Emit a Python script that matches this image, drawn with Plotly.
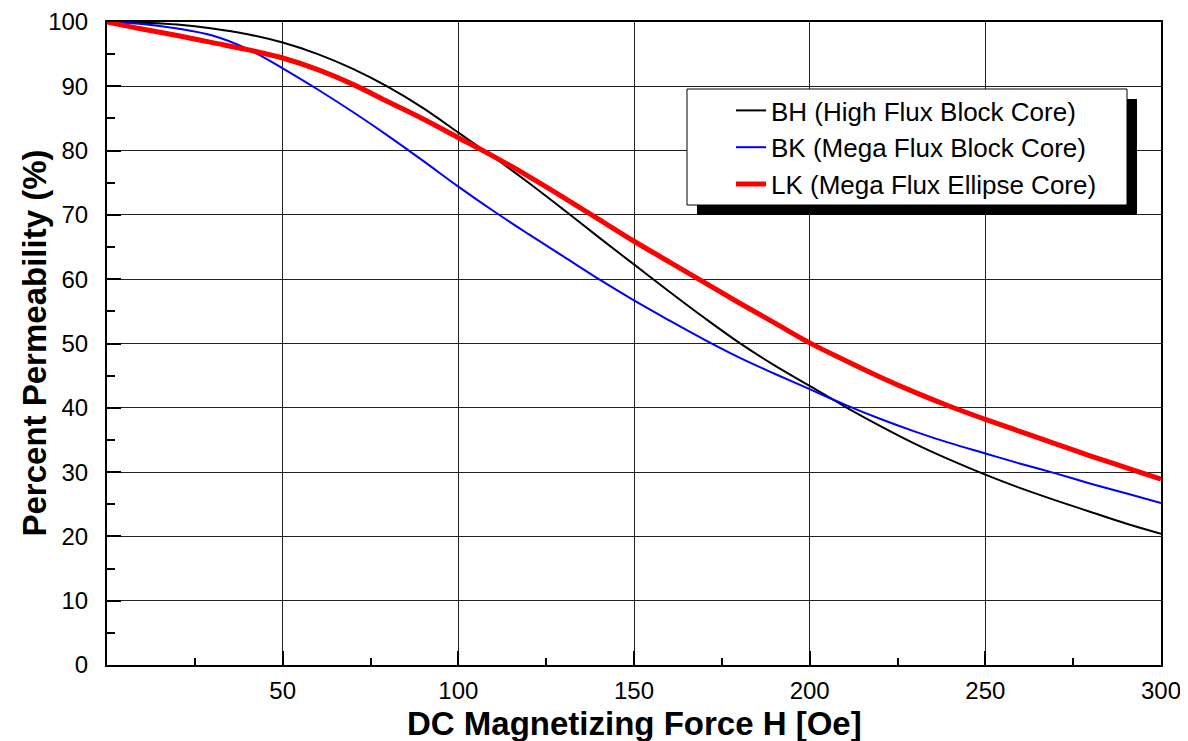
import plotly.graph_objects as go

# ---- data ----
h_oe = [0, 10, 20, 30, 40, 50, 60, 70, 80, 90, 100, 110, 120, 130, 140, 150,
        160, 170, 180, 190, 200, 210, 220, 230, 240, 250, 260, 270, 280, 290, 300]

bh_high_flux_block = [100.0, 99.9, 99.6, 99.0, 98.1, 96.8, 95.0, 92.7, 89.9, 86.6, 82.8,
                      79.0, 75.0, 70.8, 66.5, 62.3, 58.1, 54.0, 50.1, 46.6, 43.4,
                      40.2, 37.2, 34.4, 31.9, 29.6, 27.5, 25.6, 23.8, 22.0, 20.4]

bk_mega_flux_block = [100.0, 99.7, 99.0, 97.9, 95.8, 92.8, 89.5, 86.0, 82.3, 78.4, 74.4,
                      70.6, 67.0, 63.5, 60.0, 56.7, 53.6, 50.6, 47.8, 45.3, 42.9,
                      40.5, 38.3, 36.3, 34.5, 32.9, 31.3, 29.8, 28.2, 26.7, 25.2]

lk_mega_flux_ellipse = [100.0, 98.9, 97.9, 96.8, 95.7, 94.4, 92.6, 90.3, 87.6, 84.9, 82.0,
                        79.1, 76.0, 72.7, 69.3, 65.9, 62.7, 59.5, 56.3, 53.2, 50.1,
                        47.4, 44.8, 42.4, 40.2, 38.2, 36.3, 34.4, 32.5, 30.7, 28.9]

series_names = ["BH (High Flux Block Core)", "BK (Mega Flux Block Core)",
                "LK (Mega Flux Ellipse Core)"]
x_tick_vals = [50, 100, 150, 200, 250, 300]
y_tick_vals = [0, 10, 20, 30, 40, 50, 60, 70, 80, 90, 100]
x_title = "DC Magnetizing Force H [Oe]"
y_title = "Percent Permeability (%)"

FONT = "Liberation Sans, Arial, sans-serif"

fig = go.Figure()
for name, ys, color, width in [
    (series_names[0], bh_high_flux_block, "#000000", 2),
    (series_names[1], bk_mega_flux_block, "#0000ff", 2),
    (series_names[2], lk_mega_flux_ellipse, "#ff0000", 5),
]:
    fig.add_trace(go.Scatter(
        x=h_oe, y=ys, mode="lines", name=name,
        line=dict(color=color, width=width, shape="spline", smoothing=1.0),
        legendgroup=name,
    ))

# The page body adds an 8px offset, so the figure is sized to fit the window.
OFF = 8
W, H = 1188 - OFF, 741 - OFF
ML, MR, MT, MB = 107 - OFF, 27, 22 - OFF, 76
PW, PH = W - ML - MR, H - MT - MB


def px_x(px):  # window pixel -> paper x
    return (px - OFF - ML) / PW


def px_y(py):  # window pixel -> paper y
    return (H - MB - (py - OFF)) / PH


shapes = [
    dict(type="rect", xref="paper", yref="paper",
         x0=px_x(697), x1=px_x(1137), y0=px_y(215), y1=px_y(99),
         fillcolor="black", line=dict(width=0), layer="above"),
    dict(type="rect", xref="paper", yref="paper",
         x0=px_x(687), x1=px_x(1127), y0=px_y(205), y1=px_y(89),
         fillcolor="white", line=dict(color="black", width=1), layer="above"),
]

annotations = [
    dict(text="<b>" + x_title + "</b>", xref="paper", yref="paper",
         x=0.5, y=0, xanchor="center", yanchor="middle", yshift=-58,
         showarrow=False, font=dict(family=FONT, size=33, color="black")),
    dict(text="<b>" + y_title + "</b>", xref="paper", yref="paper",
         x=0, y=0.5, xanchor="center", yanchor="middle", xshift=-73,
         textangle=-90, showarrow=False,
         font=dict(family=FONT, size=33, color="black")),
]

fig.update_layout(
    width=W, height=H,
    margin=dict(l=ML, r=MR, t=MT, b=MB, autoexpand=False),
    paper_bgcolor="white", plot_bgcolor="white",
    font=dict(family=FONT, color="black", size=24),
    shapes=shapes,
    annotations=annotations,
    showlegend=True,
    legend=dict(
        x=px_x(731), y=px_y(87), xanchor="left", yanchor="top",
        bgcolor="rgba(0,0,0,0)", borderwidth=0,
        font=dict(family=FONT, size=26, color="black"),
        tracegroupgap=0, traceorder="normal",
    ),
    xaxis=dict(
        range=[0, 300], tickvals=x_tick_vals, automargin=False,
        showgrid=True, gridcolor="#222222", gridwidth=1,
        showline=True, linecolor="black", linewidth=2, mirror=True,
        ticks="inside", ticklen=14, tickwidth=2, tickcolor="black",
        minor=dict(ticks="inside", ticklen=7, tickwidth=2, tickcolor="black",
                   dtick=25, tick0=0, showgrid=False),
        tickfont=dict(family=FONT, size=24),
        ticklabelstandoff=3,
        zeroline=False,
    ),
    yaxis=dict(
        range=[0, 100], tickvals=y_tick_vals, automargin=False,
        showgrid=True, gridcolor="#222222", gridwidth=1,
        showline=True, linecolor="black", linewidth=2, mirror=True,
        ticks="inside", ticklen=14, tickwidth=2, tickcolor="black",
        minor=dict(ticks="inside", ticklen=8, tickwidth=2, tickcolor="black",
                   dtick=5, tick0=0, showgrid=False),
        tickfont=dict(family=FONT, size=24),
        ticklabelstandoff=12,
        zeroline=False,
    ),
)

fig.write_html("out.html")
